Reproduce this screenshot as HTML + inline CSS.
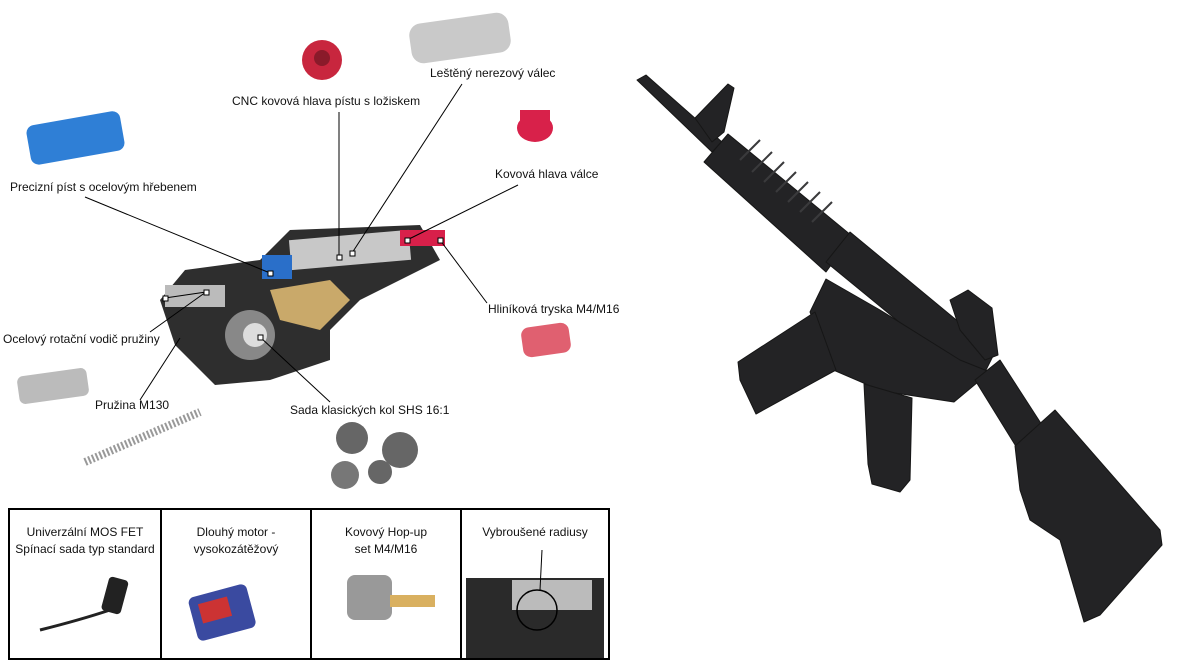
<!DOCTYPE html>
<html><head><meta charset="utf-8"><style>
html,body{margin:0;padding:0;background:#fff;width:1200px;height:668px;overflow:hidden;font-family:"Liberation Sans","DejaVu Sans",sans-serif}
.l{position:absolute;font-size:12px;color:#111;white-space:nowrap}
.box{position:absolute;top:508px;height:152px;border:2px solid #000;box-sizing:border-box}
.bt{position:absolute;top:14px;left:0;right:0;text-align:center;font-size:12px;line-height:17px;color:#111}
</style></head><body>
<svg width="1200" height="668" style="position:absolute;left:0;top:0">
<!-- rifle -->
<g fill="#232325" stroke="#161616" stroke-width="1" stroke-linejoin="round">
<!-- barrel -->
<polygon points="637,80 646,75 722,142 712,152"/>
<!-- front sight -->
<polygon points="695,118 728,84 734,88 724,132 712,142"/>
<!-- handguard -->
<polygon points="704,162 728,134 852,236 826,272"/>
<!-- upper receiver -->
<polygon points="826,262 850,232 995,352 985,372 960,372"/>
<!-- rear sight -->
<polygon points="950,300 968,290 992,308 998,355 985,360 960,330"/>
<!-- lower receiver -->
<polygon points="826,279 810,312 831,369 882,391 954,402 990,372 960,360 880,310"/>
<!-- magazine -->
<polygon points="815,312 738,362 740,380 756,414 836,370"/>
<!-- grip -->
<polygon points="864,384 912,398 910,480 900,492 872,484 868,464"/>
<!-- buffer tube -->
<polygon points="975,380 1000,360 1042,425 1017,448"/>
<!-- stock -->
<polygon points="1015,446 1055,410 1160,530 1162,545 1100,615 1084,622 1060,540 1030,520 1020,490"/>
</g>
<g stroke="#3a3a3c" stroke-width="2">
<line x1="740" y1="160" x2="760" y2="140"/><line x1="752" y1="172" x2="772" y2="152"/><line x1="764" y1="182" x2="784" y2="162"/><line x1="776" y1="192" x2="796" y2="172"/><line x1="788" y1="202" x2="808" y2="182"/><line x1="800" y1="212" x2="820" y2="192"/><line x1="812" y1="222" x2="832" y2="202"/>
</g>
<!-- gearbox -->
<g>
<polygon points="185,270 260,260 290,230 420,225 440,260 360,300 330,330 330,360 270,380 215,385 175,345 160,300" fill="#2e2e2e"/>
<rect x="290" y="235" width="120" height="30" fill="#c8c8c8" transform="rotate(-5 350 250)"/>
<rect x="262" y="255" width="30" height="24" fill="#2a6fc9"/>
<rect x="400" y="230" width="45" height="16" fill="#d8204a"/>
<rect x="165" y="285" width="60" height="22" fill="#bbb"/>
<circle cx="250" cy="335" r="25" fill="#888"/><circle cx="255" cy="335" r="12" fill="#ddd"/>
<polygon points="270,290 330,280 350,300 320,330 280,320" fill="#c9a96a"/>
</g>
<!-- parts -->
<rect x="28" y="118" width="95" height="40" rx="8" fill="#2f7fd6" transform="rotate(-10 75 138)"/>
<circle cx="322" cy="60" r="20" fill="#c8263e"/><circle cx="322" cy="58" r="8" fill="#8a1a2a"/>
<rect x="410" y="18" width="100" height="40" rx="12" fill="#c9c9c9" transform="rotate(-8 460 38)"/>
<ellipse cx="535" cy="128" rx="18" ry="14" fill="#d8214a"/><rect x="520" y="110" width="30" height="14" fill="#d8214a"/>
<rect x="522" y="325" width="48" height="30" rx="8" fill="#e06070" transform="rotate(-8 546 340)"/>
<rect x="18" y="372" width="70" height="28" rx="6" fill="#bbb" transform="rotate(-8 53 386)"/>
<line x1="85" y1="462" x2="200" y2="412" stroke="#999" stroke-width="8" stroke-dasharray="2 2"/>
<circle cx="352" cy="438" r="16" fill="#666"/><circle cx="400" cy="450" r="18" fill="#666"/><circle cx="345" cy="475" r="14" fill="#777"/><circle cx="380" cy="472" r="12" fill="#666"/>
<!-- lines -->
<g stroke="#000" stroke-width="1" fill="none">
<line x1="85" y1="197" x2="270" y2="273"/>
<line x1="339" y1="112" x2="339" y2="257"/>
<line x1="462" y1="84" x2="352" y2="253"/>
<line x1="518" y1="185" x2="407" y2="240"/>
<line x1="487" y1="303" x2="440" y2="240"/>
<line x1="150" y1="332" x2="206" y2="292"/>
<line x1="140" y1="400" x2="180" y2="338"/>
<line x1="330" y1="402" x2="260" y2="337"/>
<line x1="165" y1="298" x2="206" y2="292"/>
<g fill="#fff">
<rect x="268" y="271" width="5" height="5"/><rect x="337" y="255" width="5" height="5"/><rect x="350" y="251" width="5" height="5"/><rect x="405" y="238" width="5" height="5"/><rect x="438" y="238" width="5" height="5"/><rect x="204" y="290" width="5" height="5"/><rect x="163" y="296" width="5" height="5"/><rect x="258" y="335" width="5" height="5"/>
</g></g>
</svg>
<div class="l" style="left:10px;top:180px">Precizní píst s ocelovým hřebenem</div>
<div class="l" style="left:232px;top:94px">CNC kovová hlava pístu s ložiskem</div>
<div class="l" style="left:430px;top:66px">Leštěný nerezový válec</div>
<div class="l" style="left:495px;top:167px">Kovová hlava válce</div>
<div class="l" style="left:488px;top:302px">Hliníková tryska M4/M16</div>
<div class="l" style="left:3px;top:332px">Ocelový rotační vodič pružiny</div>
<div class="l" style="left:95px;top:398px">Pružina M130</div>
<div class="l" style="left:290px;top:403px">Sada klasických kol SHS 16:1</div>
<div class="box" style="left:8px;width:154px"><div class="bt">Univerzální MOS FET<br>Spínací sada typ standard</div>
<svg width="150" height="150" style="position:absolute;left:0;top:0"><path d="M30 120 Q70 110 100 100" stroke="#222" stroke-width="3" fill="none"/><rect x="95" y="68" width="20" height="35" rx="4" fill="#222" transform="rotate(15 105 85)"/></svg></div>
<div class="box" style="left:160px;width:152px"><div class="bt">Dlouhý motor -<br>vysokozátěžový</div>
<svg width="150" height="150" style="position:absolute;left:0;top:0"><rect x="30" y="80" width="60" height="45" rx="6" fill="#3a4aa0" transform="rotate(-15 60 102)"/><rect x="38" y="90" width="30" height="20" fill="#c33" transform="rotate(-15 53 100)"/></svg></div>
<div class="box" style="left:310px;width:152px"><div class="bt">Kovový Hop-up<br>set M4/M16</div>
<svg width="150" height="150" style="position:absolute;left:0;top:0"><rect x="35" y="65" width="45" height="45" rx="8" fill="#999"/><rect x="78" y="85" width="45" height="12" fill="#d9b060"/></svg></div>
<div class="box" style="left:460px;width:150px"><div class="bt">Vybroušené radiusy</div>
<svg width="146" height="150" style="position:absolute;left:0;top:0"><rect x="4" y="68" width="138" height="80" fill="#2a2a2a"/><rect x="50" y="70" width="80" height="30" fill="#bbb"/><circle cx="75" cy="100" r="20" fill="none" stroke="#000" stroke-width="1.5"/><line x1="80" y1="40" x2="78" y2="80" stroke="#000"/></svg></div>
</body></html>
